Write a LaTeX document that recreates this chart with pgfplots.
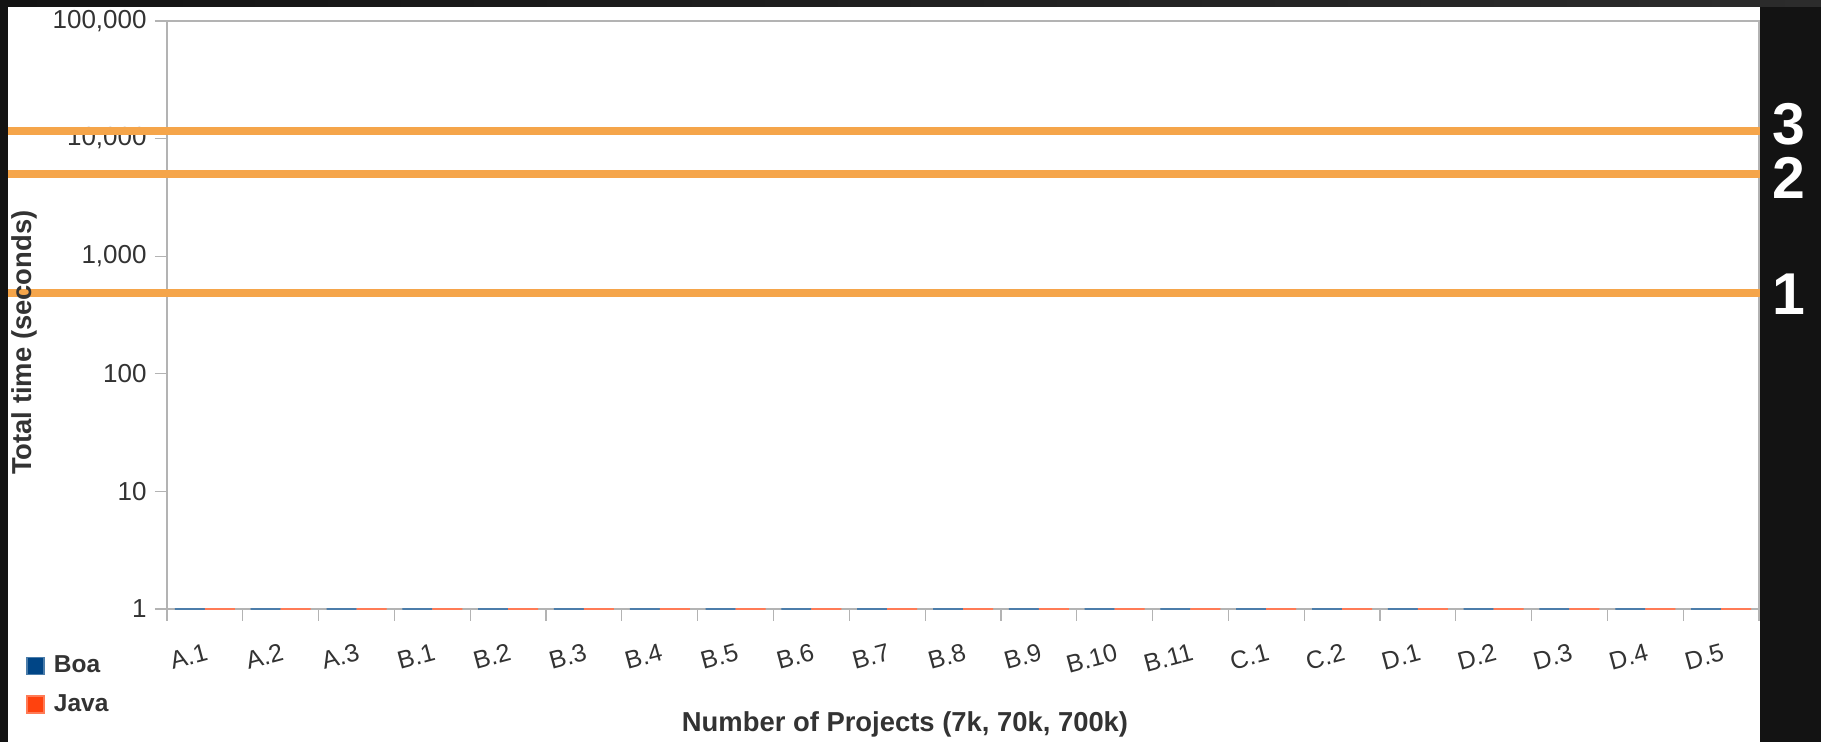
\documentclass[border=0pt]{standalone}
\usepackage{fontspec}
\setmainfont{Liberation Sans}
\usepackage{pgfplots}
\usepackage{pgfplotstable}
\pgfplotsset{compat=1.18}
\definecolor{boa}{HTML}{004586}
\definecolor{java}{HTML}{FF420E}
\definecolor{hl}{HTML}{F5A54A}
\definecolor{axisgray}{HTML}{B3B3B3}
\definecolor{txt}{HTML}{333333}
\definecolor{bg}{HTML}{131313}
\definecolor{bgtop}{HTML}{2C2C2C}

\pgfplotstableread{
x boa java
0 1 1
1 1 1
2 1 1
3 1 1
4 1 1
5 1 1
6 1 1
7 1 1
8 1 1
9 1 1
10 1 1
11 1 1
12 1 1
13 1 1
14 1 1
15 1 1
16 1 1
17 1 1
18 1 1
19 1 1
20 1 1
}\times

\pgfplotstableread{
x y
-2.597 11600
20.51 11600
}\lineThree
\pgfplotstableread{
x y
-2.597 4970
20.51 4970
}\lineTwo
\pgfplotstableread{
x y
-2.597 490
20.51 490
}\lineOne

\begin{document}
\begin{tikzpicture}
\fill[bg] (-83.5pt,-66.5pt) rectangle (827pt,304.5pt);
\shade[left color=bg, right color=bgtop] (-83.5pt,301pt) rectangle (827pt,304.5pt);
\fill[white] (-79.5pt,-66.5pt) rectangle (796.5pt,301pt);
\begin{axis}[
  at={(0,0)}, anchor=south west,
  scale only axis, width=796pt, height=294pt,
  clip=false,
  ymode=log, ymin=1, ymax=100000,
  xmin=-0.5, xmax=20.5,
  xtick={-0.5,0.5,1.5,2.5,3.5,4.5,5.5,6.5,7.5,8.5,9.5,10.5,11.5,12.5,13.5,14.5,15.5,16.5,17.5,18.5,19.5},
  xticklabels={A.1,A.2,A.3,B.1,B.2,B.3,B.4,B.5,B.6,B.7,B.8,B.9,B.10,B.11,C.1,C.2,D.1,D.2,D.3,D.4,D.5},
  extra x ticks={20.5}, extra x tick labels={},
  ytick={1,10,100,1000,10000,100000},
  yticklabels={1,10,100,{1,000},{10,000},{100,000}},
  yminorticks=false,
  tick align=outside, major tick length=6pt,
  tick style={axisgray, line width=0.6pt},
  xtick pos=bottom, ytick pos=left,
  axis line style={axisgray, line width=0.6pt},
  yticklabel style={font=\fontsize{13}{15}\selectfont, text=txt, inner sep=0pt, xshift=-4pt},
  xticklabel style={font=\fontsize{12.5}{15}\selectfont, text=txt, rotate=15, anchor=north east, inner sep=0pt, xshift=15.45pt, yshift=-15.5pt},
  xlabel={Number of Projects (7k, 70k, 700k)},
  xlabel style={at={(axis description cs:0.4636,-0.1970)}, anchor=center, font=\bfseries\fontsize{13.7}{16}\selectfont, text=txt},
  ylabel={Total time (seconds)},
  ylabel style={at={(axis description cs:-0.0893,0.453)}, anchor=center, font=\bfseries\fontsize{13.7}{16}\selectfont, text=txt},
  legend image code/.code={\fill[#1] (0pt,-4.25pt) rectangle (8.5pt,4.25pt); \path (12.15pt,0pt);},
  legend style={at={(axis description cs:-0.0888,-0.0760)}, anchor=north west, draw=none, fill=none,
    inner sep=0pt, row sep=7.25pt, font=\bfseries\fontsize{12.25}{14}\selectfont, text=txt,
    nodes={inner sep=1pt}},
  legend cell align=left,
]
\addplot[ybar, bar width=15pt, bar shift=-7.5pt, fill=boa, draw=boa!70!white, line width=0.8pt] table[x=x, y=boa] {\times};
\addlegendentry{Boa}
\addplot[ybar, bar width=15pt, bar shift=7.5pt, fill=java, draw=java!70!white, line width=0.8pt] table[x=x, y=java] {\times};
\addlegendentry{Java}
\addplot[hl, line width=4pt, forget plot] table {\lineThree};
\addplot[hl, line width=4pt, forget plot] table {\lineTwo};
\addplot[hl, line width=4pt, forget plot] table {\lineOne};
\end{axis}
\node[white, inner sep=0pt, font=\bfseries\fontsize{29.5}{30}\selectfont] at (811pt,242.5pt) {3};
\node[white, inner sep=0pt, font=\bfseries\fontsize{29.5}{30}\selectfont] at (811pt,215.75pt) {2};
\node[white, inner sep=0pt, font=\bfseries\fontsize{29.5}{30}\selectfont] at (811pt,157.5pt) {1};
\pgfresetboundingbox
\useasboundingbox (-83.5pt,-66.5pt) rectangle (827pt,304.5pt);
\end{tikzpicture}
\end{document}
